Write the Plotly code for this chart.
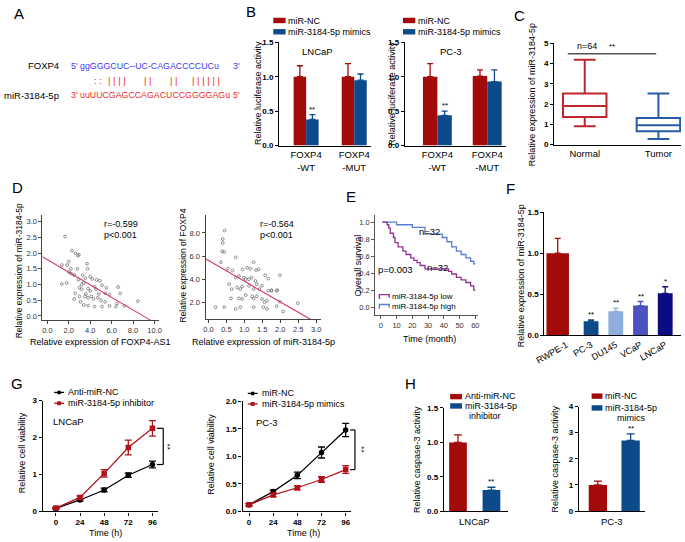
import plotly.graph_objects as go

FONT = "Arial, 'Liberation Sans', Helvetica, sans-serif"
W, H = 685, 542

# ---------------- DATA ----------------
# A: binding sequences
seq_foxp4 = "ggGGGCUC--UC-CAGACCCCUCu"
seq_mir = "uuUUCGAGCCAGACUCCGGGGAGu"
pair_marks = [": :", "| | | |", "| |", "| |", "| | | | | |"]

# B: luciferase activity
b_cats = ["FOXP4<br>-WT", "FOXP4<br>-MUT"]
b_lncap_nc = [1.0, 1.0]
b_lncap_nc_err = [0.16, 0.19]
b_lncap_mim = [0.38, 0.95]
b_lncap_mim_err = [0.07, 0.09]
b_pc3_nc = [1.0, 1.01]
b_pc3_nc_err = [0.19, 0.09]
b_pc3_mim = [0.44, 0.93]
b_pc3_mim_err = [0.06, 0.17]

# C: box stats
c_cats = ["Normal", "Tumor"]
c_low = [0.91, 0.28]
c_q1 = [1.36, 0.66]
c_med = [1.91, 0.96]
c_q3 = [2.52, 1.31]
c_high = [4.19, 2.52]
c_sig_y = 4.48

# D1: miR-3184-5p vs FOXP4-AS1
d1_x = [1.65, 2.3, 2.6, 2.85, 2.95, 2.0, 1.35, 1.85, 3.7, 3.75, 2.8, 2.0, 2.2, 2.5, 1.35,
        1.8, 3.4, 3.55, 4.0, 4.2, 4.6, 4.9, 3.0, 3.2, 3.8, 4.4, 4.55, 5.1, 2.5, 3.0,
        3.5, 3.8, 4.1, 4.7, 5.4, 3.4, 3.8, 4.4, 5.1, 5.8, 6.4, 7.2, 5.4, 5.8, 5.5,
        4.0, 6.6, 6.8, 8.45, 6.5, 3.6, 2.6, 2.9, 3.2, 4.3, 3.1, 2.2, 3.3, 4.8, 5.0]
d1_y = [2.53, 2.08, 2.0, 1.92, 1.95, 1.73, 1.62, 1.62, 1.66, 1.5, 1.5, 1.4, 1.35, 1.3, 1.02,
        1.05, 1.05, 1.2, 1.25, 1.18, 1.15, 1.12, 0.9, 0.85, 0.87, 0.93, 0.85, 0.98, 0.54, 0.62,
        0.62, 0.58, 0.62, 0.58, 0.72, 0.35, 0.33, 0.3, 0.3, 0.32, 0.3, 0.32, 0.45, 0.68, 0.9,
        0.8, 0.92, 0.72, 0.47, 0.4, 0.7, 0.72, 1.15, 1.0, 0.55, 0.45, 1.5, 1.3, 0.7, 0.5]
d1_fit_intercept = 1.79
d1_fit_slope = -0.20
d1_fit_x = [-0.46, 9.65]

# D2: FOXP4 vs miR-3184-5p
d2_x = [0.45, 0.40, 0.40, 0.38, 0.44, 0.35, 0.76, 0.54, 0.67, 0.95, 1.08, 1.26, 1.40, 0.85,
        0.76, 0.99, 1.04, 1.13, 1.20, 1.31, 0.58, 0.65, 0.80, 0.89, 0.94, 1.13, 1.26, 1.58,
        1.35, 1.67, 1.76, 1.92, 0.63, 0.85, 0.94, 1.04, 1.22, 1.26, 1.35, 1.49, 1.56, 1.63,
        0.44, 0.89, 1.26, 1.53, 1.99, 2.49, 2.08, 1.90, 1.63, 0.20, 0.76, 1.99, 1.67, 1.33,
        1.17, 1.76, 1.90, 1.49, 1.42]
d2_y = [8.2, 7.47, 7.13, 6.42, 6.35, 5.48, 5.9, 4.92, 4.78, 4.86, 5.0, 5.48, 4.86, 4.3,
        4.15, 4.15, 4.02, 4.02, 4.15, 3.87, 3.6, 3.17, 3.31, 3.17, 3.4, 3.45, 3.17, 4.36,
        3.6, 3.03, 3.08, 3.08, 2.38, 2.38, 2.32, 2.66, 2.55, 2.38, 2.55, 2.32, 2.04, 2.18,
        1.62, 1.62, 1.62, 1.62, 2.09, 1.96, 1.25, 1.7, 1.47, 1.62, 1.47, 4.36, 4.07, 4.8,
        4.92, 3.03, 3.03, 3.45, 3.17]
d2_fit_intercept = 5.63
d2_fit_slope = -1.78
d2_fit_x = [-0.08, 2.84]

# E: Kaplan-Meier
e_low_t = [1, 4, 5, 6, 8, 9, 11, 14, 16, 19, 21, 23, 25, 28, 43, 45, 48, 51, 54, 57, 59, 60]
e_low_s = [1.0, 0.97, 0.93, 0.87, 0.82, 0.76, 0.71, 0.66, 0.62, 0.58, 0.55, 0.525, 0.49,
           0.45, 0.42, 0.39, 0.35, 0.32, 0.29, 0.25, 0.2, 0.2]
e_high_t = [1, 10, 20, 28, 39, 42, 45, 48, 51, 54, 57, 59, 60]
e_high_s = [1.0, 0.97, 0.94, 0.86, 0.82, 0.77, 0.71, 0.66, 0.62, 0.58, 0.54, 0.51, 0.51]

# F: cell lines
f_cats = ["RWPE-1", "PC-3", "DU145", "VCaP", "LNCaP"]
f_vals = [1.0, 0.17, 0.29, 0.36, 0.51]
f_err = [0.18, 0.015, 0.04, 0.05, 0.08]
f_stars = ["", "**", "**", "**", "*"]

# G: viability
g_time = [0, 24, 48, 72, 96]
g1_nc = [0.08, 0.31, 0.58, 0.98, 1.27]
g1_nc_err = [0.02, 0.03, 0.05, 0.06, 0.09]
g1_inh = [0.09, 0.38, 1.03, 1.73, 2.25]
g1_inh_err = [0.02, 0.04, 0.10, 0.20, 0.21]
g2_nc = [0.12, 0.36, 0.655, 1.07, 1.48]
g2_nc_err = [0.02, 0.03, 0.06, 0.10, 0.12]
g2_mim = [0.12, 0.30, 0.43, 0.58, 0.76]
g2_mim_err = [0.02, 0.03, 0.04, 0.05, 0.07]

# H: caspase-3
h1_cats = ["Anti-miR-NC", "miR-3184-5p inhibitor"]
h1_vals = [1.0, 0.31]
h1_err = [0.11, 0.04]
h2_cats = ["miR-NC", "miR-3184-5p mimics"]
h2_vals = [1.0, 2.7]
h2_err = [0.15, 0.25]

# ---------------- STYLE ----------------
RED = "#a30b0b"
BLUE = "#0c4a8a"
SEQ_BLUE = "#3a3af0"
SEQ_RED = "#f02a2a"
F_COLORS = ["#a30b0b", "#0c4a8a", "#8eaedb", "#4b52c2", "#0b0b82"]
E_LOW = "#923194"
E_HIGH = "#5a7cd4"
FIT = "#d6365d"
TS = 9      # axis-title size
LS = 9      # legend text size


def fx(p):
    return p / W


def fy(p):
    return 1 - p / H


fig = go.Figure()
shapes = []
annots = []
layout = dict(width=W, height=H, margin=dict(l=0, r=0, t=0, b=0),
              paper_bgcolor="white", plot_bgcolor="white", showlegend=False,
              font=dict(family=FONT, size=10, color="black"), barmode="overlay")


def axis_pair(i, box, xr, yr, xopts=None, yopts=None, lc="black", lw=1.3):
    x0, x1, y0, y1 = box
    xn = "xaxis" if i == 1 else f"xaxis{i}"
    yn = "yaxis" if i == 1 else f"yaxis{i}"
    xid = "x" if i == 1 else f"x{i}"
    yid = "y" if i == 1 else f"y{i}"
    base = dict(showgrid=False, zeroline=False, showline=True, linecolor=lc, linewidth=lw,
                ticks="outside", ticklen=3, tickwidth=lw, tickcolor=lc, fixedrange=True)
    xa = dict(base, domain=[fx(x0), fx(x1)], range=xr, anchor=yid)
    ya = dict(base, domain=[fy(y1), fy(y0)], range=yr, anchor=xid)
    xa.update(xopts or {})
    ya.update(yopts or {})
    layout[xn] = xa
    layout[yn] = ya
    return xid, yid


def txt(x, y, s, size=10, xa="left", ya="middle", color="black", angle=0,
        weight="normal", xref="paper", yref="paper"):
    if xref == "paper":
        x = fx(x)
    if yref == "paper":
        y = fy(y)
    annots.append(dict(x=x, y=y, xref=xref, yref=yref, text=s, showarrow=False,
                       xanchor=xa, yanchor=ya, textangle=angle, borderpad=0,
                       font=dict(family=FONT, size=size, color=color, weight=weight)))


def rect(x0, y0, x1, y1, color):
    shapes.append(dict(type="rect", xref="paper", yref="paper", x0=fx(x0), x1=fx(x1),
                       y0=fy(y1), y1=fy(y0), fillcolor=color, line=dict(width=0)))


def pline(x0, y0, x1, y1, color, width=1.3):
    shapes.append(dict(type="line", xref="paper", yref="paper", x0=fx(x0), x1=fx(x1),
                       y0=fy(y0), y1=fy(y1), line=dict(color=color, width=width)))


def err(arr, color, w=3, th=1.3, up_only=True):
    d = dict(type="data", array=arr, color=color, thickness=th, width=w, visible=True)
    if up_only:
        d.update(symmetric=False, arrayminus=[0] * len(arr))
    return d


BOLD8 = dict(size=8, weight="bold", family=FONT, color="black")

# ---------------- Panel letters ----------------
for lab, x, y in [("A", 9, 10), ("B", 245, 8), ("C", 519, 12), ("D", 8, 187),
                  ("E", 347, 196), ("F", 509, 188), ("G", 7, 386), ("H", 408, 386)]:
    txt(x, y, lab, size=15, xa="center")

# ---------------- A ----------------
SEQ_FS = 8.8
txt(51, 63, "FOXP4", 9.5, xa="right")
txt(61, 63, "5'", SEQ_FS, color=SEQ_BLUE)
txt(70, 63, seq_foxp4, SEQ_FS, color=SEQ_BLUE)
txt(226, 63, "3'", SEQ_FS, color=SEQ_BLUE)
txt(51, 93, "miR-3184-5p", 9.5, xa="right")
txt(61, 93, "3'", SEQ_FS, color=SEQ_RED)
txt(70, 93, seq_mir, SEQ_FS, color=SEQ_RED)
txt(226, 93, "5'", SEQ_FS, color=SEQ_RED)
for s, cx in zip(pair_marks, [89.5, 109, 140, 166.7, 199]):
    txt(cx, 78, s, 9.5, xa="center", color=SEQ_RED)

# ---------------- B ----------------
bx = dict(type="category", ticks="", tickfont=dict(size=9.5, family=FONT))
by = dict(tickvals=[0, 0.5, 1.0, 1.5], tickformat=".1f", tickfont=BOLD8)
xb1, yb1 = axis_pair(1, (274, 367, 39, 144), [-0.56, 1.34], [0, 1.5], bx, by)
xb2, yb2 = axis_pair(2, (402, 505, 39, 144), [-0.65, 1.38], [0, 1.5], bx, by)
for (xid, yid, nc, nce, mm, mme, bw) in [(xb1, yb1, b_lncap_nc, b_lncap_nc_err, b_lncap_mim, b_lncap_mim_err, 0.26),
                                         (xb2, yb2, b_pc3_nc, b_pc3_nc_err, b_pc3_mim, b_pc3_mim_err, 0.29)]:
    fig.add_trace(go.Bar(x=b_cats, y=nc, width=bw, offset=-bw, marker=dict(color=RED, line=dict(width=0)),
                         error_y=err(nce, RED), xaxis=xid, yaxis=yid))
    fig.add_trace(go.Bar(x=b_cats, y=mm, width=bw, offset=0, marker=dict(color=BLUE, line=dict(width=0)),
                         error_y=err(mme, BLUE), xaxis=xid, yaxis=yid))
    txt(bw / 2, mm[0] + mme[0], "**", 8, xa="center", ya="bottom", xref=xid, yref=yid)
txt(253, 91, "Relative luciferase activity", TS, xa="center", angle=-90)
txt(389, 91, "Relative luciferase activity", TS, xa="center", angle=-90)
txt(313, 48, "LNCaP", 9.5, xa="center")
txt(449, 48, "PC-3", 9.5, xa="center")
for lx in (268, 400):
    rect(lx, 14, lx + 12.5, 19.5, RED)
    rect(lx, 25.5, lx + 12.5, 31, BLUE)
    txt(lx + 14, 16.8, "miR-NC", LS)
    txt(lx + 14, 28.3, "miR-3184-5p mimics", LS)

# ---------------- C ----------------
xc, yc = axis_pair(3, (554, 683, 40, 143), [-0.413, 1.307], [0, 5],
                   dict(type="category", ticks="", tickfont=dict(size=9.5, family=FONT)),
                   dict(tickvals=[0, 1, 2, 3, 4, 5], tickfont=BOLD8))
for i, col in enumerate(["#c0262d", "#2a5ba6"]):
    fig.add_trace(go.Box(x=[c_cats[i]], q1=[c_q1[i]], median=[c_med[i]], q3=[c_q3[i]],
                         lowerfence=[c_low[i]], upperfence=[c_high[i]], width=0.59,
                         whiskerwidth=0.5, fillcolor="rgba(255,255,255,0)", boxpoints=False,
                         line=dict(color=col, width=2), xaxis=xc, yaxis=yc))
shapes.append(dict(type="line", xref=xc, yref=yc, x0=-0.23, x1=0.97, y0=c_sig_y, y1=c_sig_y,
                   line=dict(color="#555555", width=1.5)))
txt(0.03, c_sig_y + 0.08, "n=64", 9, xa="center", ya="bottom", xref=xc, yref=yc)
txt(0.37, c_sig_y + 0.08, "**", 8, xa="center", ya="bottom", xref=xc, yref=yc)
txt(532, 92, "Relative expression of miR-3184-5p", TS, xa="center", angle=-90)

# ---------------- D ----------------
dtick = dict(size=7.5, family=FONT, color="#333333")
xd1, yd1 = axis_pair(4, (33, 152, 215, 321.7), [-0.46, 10.45], [-0.14, 3.2],
                     dict(tickvals=[0, 2, 4, 6, 8, 10], tickformat=".1f", tickfont=dtick),
                     dict(tickvals=[0, 0.5, 1, 1.5, 2, 2.5, 3], tickformat=".1f", tickfont=dtick),
                     lc="#444444", lw=1)
xd2, yd2 = axis_pair(5, (199, 316.7, 215, 320.7), [-0.08, 3.14], [0.57, 9.5],
                     dict(tickvals=[0, 0.5, 1, 1.5, 2, 2.5, 3], tickformat=".1f", tickfont=dtick),
                     dict(tickvals=[2, 4, 6, 8], tickformat=".1f", tickfont=dtick),
                     lc="#444444", lw=1)
for (xid, yid, xs, ys, b0, b1, fxs) in [(xd1, yd1, d1_x, d1_y, d1_fit_intercept, d1_fit_slope, d1_fit_x),
                                        (xd2, yd2, d2_x, d2_y, d2_fit_intercept, d2_fit_slope, d2_fit_x)]:
    fig.add_trace(go.Scatter(x=xs, y=ys, mode="markers", xaxis=xid, yaxis=yid,
                             marker=dict(symbol="circle-open", size=2.8, color="#666666",
                                         line=dict(width=0.7, color="#666666"))))
    fig.add_trace(go.Scatter(x=fxs, y=[b0 + b1 * v for v in fxs], mode="lines", xaxis=xid, yaxis=yid,
                             line=dict(color=FIT, width=1.1)))
txt(95, 224, "r=-0.599", 9)
txt(95, 234.5, "p<0.001", 9)
txt(253, 224, "r=-0.564", 9)
txt(253, 234.5, "p<0.001", 9)
txt(9, 271, "Relative expression of miR-3184-5p", 8.5, xa="center", angle=-90)
txt(92, 344, "Relative expression of FOXP4-AS1", TS, xa="center")
txt(176, 266, "Relative expression of FOXP4", 8.5, xa="center", angle=-90)
txt(258, 344, "Relative expression of miR-3184-5p", TS, xa="center")

# ---------------- E ----------------
xe, ye = axis_pair(6, (371.7, 476, 215, 316), [-3.6, 61.5], [-0.09, 1.08],
                   dict(tickvals=[0, 10, 20, 30, 40, 50, 60], tickfont=dtick),
                   dict(tickvals=[0, 0.2, 0.4, 0.6, 0.8, 1.0], tickformat=".1f", tickfont=dtick),
                   lc="#555555", lw=1)
fig.add_trace(go.Scatter(x=e_high_t, y=e_high_s, mode="lines", line=dict(color=E_HIGH, width=1.3, shape="hv"),
                         xaxis=xe, yaxis=ye))
fig.add_trace(go.Scatter(x=e_low_t, y=e_low_s, mode="lines", line=dict(color=E_LOW, width=1.3, shape="hv"),
                         xaxis=xe, yaxis=ye))
txt(427, 231, "n=32", 9.5, xa="center")
txt(435, 268, "n=32", 9.5, xa="center")
txt(392, 270, "p=0.003", 9.5, xa="center")
for yy, col, lab in [(297.5, E_LOW, "miR-3184-5p low"), (307.5, E_HIGH, "miR-3184-5p high")]:
    shapes.append(dict(type="path", xref="paper", yref="paper",
                       path=f"M{fx(376)},{fy(yy + 2.5)} L{fx(376)},{fy(yy - 2)} L{fx(386)},{fy(yy - 2)} L{fx(386)},{fy(yy + 1)}",
                       line=dict(color=col, width=1.4)))
    txt(388, yy, lab, 8)
txt(354, 266, "Overall survival", TS, xa="center", angle=-90)
txt(427, 341, "Time (month)", TS, xa="center")

# ---------------- F ----------------
xf, yf = axis_pair(7, (544, 683, 211.7, 336.7), [-0.886, 4.64], [0, 1.5],
                   dict(type="category", ticks="", tickangle=-30, tickfont=dict(size=9, family=FONT)),
                   dict(tickvals=[0, 0.5, 1.0, 1.5], tickformat=".1f", tickfont=BOLD8))
f_width = [0.91, 0.6, 0.6, 0.6, 0.6]
f_offset = [-0.805, -0.3, -0.3, -0.3, -0.3]
for i in range(len(f_cats)):
    fig.add_trace(go.Bar(x=[f_cats[i]], y=[f_vals[i]], width=[f_width[i]], offset=[f_offset[i]],
                         marker=dict(color=F_COLORS[i], line=dict(width=0)),
                         error_y=err([f_err[i]], F_COLORS[i], w=3), xaxis=xf, yaxis=yf))
    if f_stars[i]:
        txt(i, f_vals[i] + f_err[i], f_stars[i], 8, xa="center", ya="bottom", xref=xf, yref=yf)
txt(521, 276, "Relative expression of miR-3184-5p", TS, xa="center", angle=-90)

# ---------------- G ----------------
gx = dict(tickvals=g_time, tickfont=BOLD8)
xg1, yg1 = axis_pair(8, (33.3, 150.7, 403.3, 516), [-13.1, 101.6], [0, 3.0],
                     gx, dict(tickvals=[0, 1, 2, 3], tickfont=BOLD8))
xg2, yg2 = axis_pair(9, (236.7, 346.7, 404, 516), [-6.4, 100.9], [0, 2.0],
                     gx, dict(tickvals=[0, 0.5, 1.0, 1.5, 2.0], tickformat=".1f", tickfont=BOLD8))
for (xid, yid, nc, nce, tr, tre) in [(xg1, yg1, g1_nc, g1_nc_err, g1_inh, g1_inh_err),
                                     (xg2, yg2, g2_nc, g2_nc_err, g2_mim, g2_mim_err)]:
    fig.add_trace(go.Scatter(x=g_time, y=nc, mode="lines+markers", xaxis=xid, yaxis=yid,
                             line=dict(color="black", width=1.3),
                             marker=dict(symbol="circle", size=5.5, color="black"),
                             error_y=err(nce, "black", w=3.5, up_only=False)))
    fig.add_trace(go.Scatter(x=g_time, y=tr, mode="lines+markers", xaxis=xid, yaxis=yid,
                             line=dict(color="#b0121a", width=1.3),
                             marker=dict(symbol="square", size=5.5, color="#b0121a"),
                             error_y=err(tre, "#b0121a", w=3.5, up_only=False)))
# significance brackets (x in axis-domain fraction, y from the 96 h values)
for (xid, yid, nc, tr, ymax, xl, xv, xs) in [(xg1, yg1, g1_nc, g1_inh, 3.0, 0.99, 1.045, 1.085),
                                             (xg2, yg2, g2_nc, g2_mim, 2.0, 0.995, 1.04, 1.10)]:
    top = max(nc[-1], tr[-1]) / ymax
    bot = min(nc[-1], tr[-1]) / ymax
    xr_ = xid + " domain"
    yr_ = yid + " domain"
    for (a0, b0, a1, b1) in [(xv, bot, xv, top), (xl, top, xv, top), (xl, bot, xv, bot)]:
        shapes.append(dict(type="line", xref=xr_, yref=yr_, x0=a0, y0=b0, x1=a1, y1=b1,
                           line=dict(color="black", width=1.2)))
    annots.append(dict(x=xs, y=(top + bot) / 2, xref=xr_, yref=yr_, text="**", showarrow=False,
                       textangle=90, xanchor="center", yanchor="middle",
                       font=dict(size=8, family=FONT, color="black")))
txt(43, 425, "LNCaP", 9.5)
txt(249, 426, "PC-3", 9.5)
txt(13, 456, "Relative cell viability", TS, xa="center", angle=-90)
txt(205, 458, "Relative cell viability", TS, xa="center", angle=-90)
txt(97, 537.5, "Time (h)", TS, xa="center")
txt(299, 537.5, "Time (h)", TS, xa="center")
for (lx, y1, y2, l1, l2) in [(45, 395, 406, "Anti-miR-NC", "miR-3184-5p inhibitor"),
                             (242, 396, 406.7, "miR-NC", "miR-3184-5p mimics")]:
    pline(lx, y1, lx + 10, y1, "black")
    shapes.append(dict(type="circle", xref="paper", yref="paper", x0=fx(lx + 3), x1=fx(lx + 7),
                       y0=fy(y1 + 2), y1=fy(y1 - 2), fillcolor="black", line=dict(width=0)))
    pline(lx, y2, lx + 10, y2, "#b0121a")
    rect(lx + 3, y2 - 2, lx + 7, y2 + 2, "#b0121a")
    txt(lx + 13, y1, l1, LS)
    txt(lx + 13, y2, l2, LS)

# ---------------- H ----------------
xh1, yh1 = axis_pair(10, (441.7, 506.7, 410.7, 516), [-0.42, 1.49], [0, 1.5],
                     dict(type="category", ticks="", showticklabels=False),
                     dict(tickvals=[0, 0.5, 1.0, 1.5], tickformat=".1f", tickfont=BOLD8))
xh2, yh2 = axis_pair(11, (579, 646.7, 409.3, 515.7), [-0.58, 1.45], [0, 4],
                     dict(type="category", ticks="", showticklabels=False),
                     dict(tickvals=[0, 1, 2, 3, 4], tickfont=BOLD8))
for (xid, yid, cats, vals, errs, bw) in [(xh1, yh1, h1_cats, h1_vals, h1_err, 0.53),
                                         (xh2, yh2, h2_cats, h2_vals, h2_err, 0.56)]:
    for i, col in enumerate([RED, BLUE]):
        fig.add_trace(go.Bar(x=[cats[i]], y=[vals[i]], width=bw, marker=dict(color=col, line=dict(width=0)),
                             error_y=err([errs[i]], col, w=4), xaxis=xid, yaxis=yid))
    txt(1, vals[1] + errs[1], "**", 8, xa="center", ya="bottom", xref=xid, yref=yid)
txt(473, 526, "LNCaP", 9.5, xa="center")
txt(613, 526, "PC-3", 9.5, xa="center")
txt(415, 463, "Relative caspase-3 activity", TS, xa="center", angle=-90)
txt(555, 463, "Relative caspase-3 activity", TS, xa="center", angle=-90)
rect(448, 396.5, 460, 402, RED)
rect(448, 406, 460, 411.5, BLUE)
txt(462, 399, "Anti-miR-NC", LS)
txt(462, 408.7, "miR-3184-5p", LS)
txt(483, 419, "inhibitor", LS, xa="center")
rect(592, 396, 603, 401.5, RED)
rect(592, 408, 603, 413.5, BLUE)
txt(605, 398.7, "miR-NC", LS)
txt(605, 410.7, "miR-3184-5p", LS)
txt(632, 420.5, "mimics", LS, xa="center")

layout["shapes"] = shapes
layout["annotations"] = annots
fig.update_layout(**layout)
fig.write_html("out.html", config={"displayModeBar": False},
               post_script="document.body.style.margin='0px';document.body.style.padding='0px';")
